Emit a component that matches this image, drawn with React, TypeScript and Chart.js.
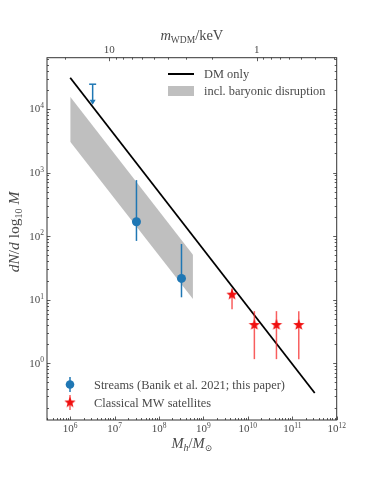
import React, { useEffect, useRef } from "react";
import { Chart, registerables } from "chart.js";
Chart.register(...registerables);

// ---- data ----
const dmOnlyMass = [1e6, 3.2e11];
const dmOnlyCount = [3.1e4, 0.34];
const bandMass = [1e6, 5.8e8];
const bandUpper = [1.56e4, 51];
const bandLower = [3.06e3, 10.2];
const streamMass = [3.1e7, 3.2e8];
const streamCount = [168, 21.6];
const streamLow = [84, 10.9];
const streamHigh = [760, 75];
const streamLimitMass = [3.2e6];
const streamLimitTop = [2.45e4];
const streamLimitBottom = [1.16e4];
const satMass = [4.4e9, 1.4e10, 4.4e10, 1.4e11];
const satCount = [12, 4, 4, 4];
const satLow = [7.1, 1.16, 1.16, 1.16];
const satHigh = [15, 6.6, 6.6, 6.6];
const xTickExps = [6, 7, 8, 9, 10, 11, 12];
const yTickExps = [0, 1, 2, 3, 4];
const topTickValues = [10, 1];
const topTickLabels = ["10", "1"];

const FONT = "'Liberation Serif', 'DejaVu Serif', serif";
const TEXT = "#4a4a4a";
const BLUE = "#1f77b4";
const RED = "#f01010";
const RED_ERR = "rgba(245,40,40,0.75)";

function makeStar(): HTMLCanvasElement {
  const c = document.createElement("canvas");
  c.width = 16;
  c.height = 16;
  const g = c.getContext("2d")!;
  g.fillStyle = RED;
  g.beginPath();
  const R = 6,
    r = 2.5;
  for (let i = 0; i < 10; i++) {
    const ang = -Math.PI / 2 + (i * Math.PI) / 5;
    const rad = i % 2 === 0 ? R : r;
    const px = 8 + rad * Math.cos(ang);
    const py = 8 + rad * Math.sin(ang);
    if (i === 0) g.moveTo(px, py);
    else g.lineTo(px, py);
  }
  g.closePath();
  g.fill();
  return c;
}

type Piece = { t: string; size: number; italic?: boolean; dy?: number };

function drawPieces(ctx: CanvasRenderingContext2D, pieces: Piece[], cx: number, cy: number, align: "center" | "right" | "left") {
  let total = 0;
  const widths = pieces.map((p) => {
    ctx.font = `${p.italic ? "italic " : ""}${p.size}px ${FONT}`;
    const w = ctx.measureText(p.t).width;
    total += w;
    return w;
  });
  let x = align === "center" ? cx - total / 2 : align === "right" ? cx - total : cx;
  ctx.textAlign = "left";
  ctx.textBaseline = "alphabetic";
  pieces.forEach((p, i) => {
    ctx.font = `${p.italic ? "italic " : ""}${p.size}px ${FONT}`;
    ctx.fillText(p.t, x, cy + (p.dy || 0));
    x += widths[i];
  });
}

function pow10(e: number): Piece[] {
  return [
    { t: "10", size: 11 },
    { t: String(e), size: 7.5, dy: -4.5 },
  ];
}

function line(ctx: CanvasRenderingContext2D, x1: number, y1: number, x2: number, y2: number) {
  ctx.beginPath();
  ctx.moveTo(x1, y1);
  ctx.lineTo(x2, y2);
  ctx.stroke();
}

export default function App() {
  const ref = useRef<HTMLCanvasElement>(null);
  useEffect(() => {
    const canvas = ref.current!;
    const star = makeStar();

    const decor = {
      id: "decor",
      beforeDatasetDraw(chart: any, args: any) {
        const ds = chart.data.datasets[args.index];
        const ctx: CanvasRenderingContext2D = chart.ctx;
        const xs = chart.scales.x,
          ys = chart.scales.y;
        if (ds.label === "Streams") {
          ctx.save();
          ctx.strokeStyle = BLUE;
          ctx.fillStyle = BLUE;
          ctx.lineWidth = 1.5;
          streamMass.forEach((m, i) => {
            const px = xs.getPixelForValue(m);
            line(ctx, px, ys.getPixelForValue(streamLow[i]), px, ys.getPixelForValue(streamHigh[i]));
          });
          streamLimitMass.forEach((m, i) => {
            const px = xs.getPixelForValue(m);
            const top = ys.getPixelForValue(streamLimitTop[i]);
            const bot = ys.getPixelForValue(streamLimitBottom[i]);
            line(ctx, px, top, px, bot - 2);
            line(ctx, px - 3.5, top, px + 3.5, top);
            ctx.beginPath();
            ctx.moveTo(px - 3, bot - 5);
            ctx.lineTo(px + 3, bot - 5);
            ctx.lineTo(px, bot);
            ctx.closePath();
            ctx.fill();
          });
          ctx.restore();
        }
        if (ds.label === "Classical MW satellites") {
          ctx.save();
          ctx.strokeStyle = RED_ERR;
          ctx.lineWidth = 1.5;
          satMass.forEach((m, i) => {
            const px = xs.getPixelForValue(m);
            line(ctx, px, ys.getPixelForValue(satLow[i]), px, ys.getPixelForValue(satHigh[i]));
          });
          ctx.restore();
        }
      },
      afterDraw(chart: any) {
        const ctx: CanvasRenderingContext2D = chart.ctx;
        const a = chart.chartArea;
        const xs = chart.scales.x,
          ys = chart.scales.y,
          xt = chart.scales.xTop;
        ctx.save();
        // frame
        ctx.strokeStyle = "#333";
        ctx.lineWidth = 1;
        ctx.strokeRect(a.left, a.top, a.right - a.left, a.bottom - a.top);
        ctx.lineWidth = 0.8;
        const MAJ = 3.5,
          MIN = 2;
        // y ticks
        for (let e = -2; e <= 5; e++) {
          for (let k = 1; k <= 9; k++) {
            const v = k * Math.pow(10, e);
            if (v < ys.min || v > ys.max) continue;
            const py = Math.round(ys.getPixelForValue(v)) + 0.5;
            const L = k === 1 ? MAJ : MIN;
            line(ctx, a.left, py, a.left + L, py);
            line(ctx, a.right, py, a.right - L, py);
          }
        }
        // bottom ticks
        for (let e = 5; e <= 12; e++) {
          for (let k = 1; k <= 9; k++) {
            const v = k * Math.pow(10, e);
            if (v < xs.min || v > xs.max) continue;
            const px = Math.round(xs.getPixelForValue(v)) + 0.5;
            const L = k === 1 ? MAJ : MIN;
            line(ctx, px, a.bottom, px, a.bottom - L);
          }
        }
        // top ticks
        for (let e = -1; e <= 1; e++) {
          for (let k = 1; k <= 9; k++) {
            const v = k * Math.pow(10, e);
            if (v < xt.min || v > xt.max) continue;
            const px = Math.round(xt.getPixelForValue(v)) + 0.5;
            const L = k === 1 ? MAJ : MIN;
            line(ctx, px, a.top, px, a.top + L);
          }
        }
        // tick labels
        ctx.fillStyle = TEXT;
        yTickExps.forEach((e) => {
          const py = ys.getPixelForValue(Math.pow(10, e));
          drawPieces(ctx, pow10(e), a.left - 3, py + 3.5, "right");
        });
        xTickExps.forEach((e) => {
          const px = xs.getPixelForValue(Math.pow(10, e));
          drawPieces(ctx, pow10(e), px, a.bottom + 12, "center");
        });
        topTickValues.forEach((v, i) => {
          const px = xt.getPixelForValue(v);
          drawPieces(ctx, [{ t: topTickLabels[i], size: 11 }], px, a.top - 5, "center");
        });
        // axis titles
        const cx = (a.left + a.right) / 2;
        drawPieces(
          ctx,
          [
            { t: "M", size: 14.5, italic: true },
            { t: "h", size: 10, italic: true, dy: 3 },
            { t: "/", size: 14.5 },
            { t: "M", size: 14.5, italic: true },
            { t: "\u2299", size: 9, dy: 3 },
          ],
          cx,
          a.bottom + 28,
          "center"
        );
        drawPieces(
          ctx,
          [
            { t: "m", size: 14.5, italic: true },
            { t: "WDM", size: 9.5, dy: 3 },
            { t: "/keV", size: 14.5 },
          ],
          cx,
          a.top - 18,
          "center"
        );
        ctx.save();
        ctx.translate(19, 232);
        ctx.rotate(-Math.PI / 2);
        drawPieces(
          ctx,
          [
            { t: "dN", size: 15.5, italic: true },
            { t: "/", size: 15.5 },
            { t: "d", size: 15.5, italic: true },
            { t: " log", size: 15.5 },
            { t: "10", size: 10, dy: 3 },
            { t: " M", size: 15.5, italic: true },
          ],
          0,
          0,
          "center"
        );
        ctx.restore();

        // legend 1 (top right)
        ctx.strokeStyle = "#000";
        ctx.lineWidth = 2;
        line(ctx, 168, 74, 194, 74);
        ctx.fillStyle = "#bfbfbf";
        ctx.fillRect(168, 86, 26, 10);
        ctx.fillStyle = TEXT;
        drawPieces(ctx, [{ t: "DM only", size: 12.4 }], 204, 78, "left");
        drawPieces(ctx, [{ t: "incl. baryonic disruption", size: 12.4 }], 204, 95, "left");

        // legend 2 (bottom left)
        ctx.strokeStyle = BLUE;
        ctx.lineWidth = 1.5;
        line(ctx, 70, 377, 70, 392);
        ctx.fillStyle = BLUE;
        ctx.beginPath();
        ctx.arc(70, 384.5, 4.3, 0, Math.PI * 2);
        ctx.fill();
        ctx.strokeStyle = RED_ERR;
        line(ctx, 70, 395, 70, 410);
        ctx.drawImage(star, 62, 394.5);
        ctx.fillStyle = TEXT;
        drawPieces(ctx, [{ t: "Streams (Banik et al. 2021; this paper)", size: 12.4 }], 94, 388.5, "left");
        drawPieces(ctx, [{ t: "Classical MW satellites", size: 12.4 }], 94, 406.5, "left");
        ctx.restore();
      },
    };

    const chart = new Chart(canvas, {
      type: "scatter",
      data: {
        datasets: [
          {
            label: "band upper",
            data: bandMass.map((m, i) => ({ x: m, y: bandUpper[i] })),
            showLine: true,
            borderWidth: 0,
            borderColor: "rgba(0,0,0,0)",
            pointRadius: 0,
            backgroundColor: "#bfbfbf",
            fill: "+1",
            order: 6,
          },
          {
            label: "band lower",
            data: bandMass.map((m, i) => ({ x: m, y: bandLower[i] })),
            showLine: true,
            borderWidth: 0,
            borderColor: "rgba(0,0,0,0)",
            pointRadius: 0,
            fill: false,
            order: 5,
          },
          {
            label: "DM only",
            data: dmOnlyMass.map((m, i) => ({ x: m, y: dmOnlyCount[i] })),
            showLine: true,
            borderColor: "#000",
            borderWidth: 1.8,
            pointRadius: 0,
            fill: false,
            order: 4,
          },
          {
            label: "Streams",
            data: streamMass.map((m, i) => ({ x: m, y: streamCount[i] })),
            pointRadius: 4.5,
            pointBackgroundColor: BLUE,
            pointBorderWidth: 0,
            order: 2,
          },
          {
            label: "Classical MW satellites",
            data: satMass.map((m, i) => ({ x: m, y: satCount[i] })),
            pointStyle: star as any,
            pointRadius: 6,
            order: 1,
          },
        ] as any,
      },
      options: {
        responsive: false,
        animation: false,
        devicePixelRatio: 1,
        layout: { padding: { left: 47, right: 37.3, top: 57.7, bottom: 61 } },
        plugins: { legend: { display: false }, tooltip: { enabled: false } },
        events: [],
        scales: {
          x: { type: "logarithmic", min: 3e5, max: 1e12, bounds: "data", display: false },
          y: { type: "logarithmic", min: 0.128, max: 6.4e4, bounds: "data", display: false },
          xTop: {
            type: "logarithmic",
            axis: "x",
            position: "top",
            min: 0.287,
            max: 26.4,
            reverse: true,
            bounds: "data",
            display: false,
          },
        } as any,
      },
      plugins: [decor],
    });
    return () => chart.destroy();
  }, []);
  return (
    <canvas
      ref={ref}
      width={374}
      height={481}
      style={{ position: "fixed", left: 0, top: 0, width: 374, height: 481 }}
    />
  );
}
